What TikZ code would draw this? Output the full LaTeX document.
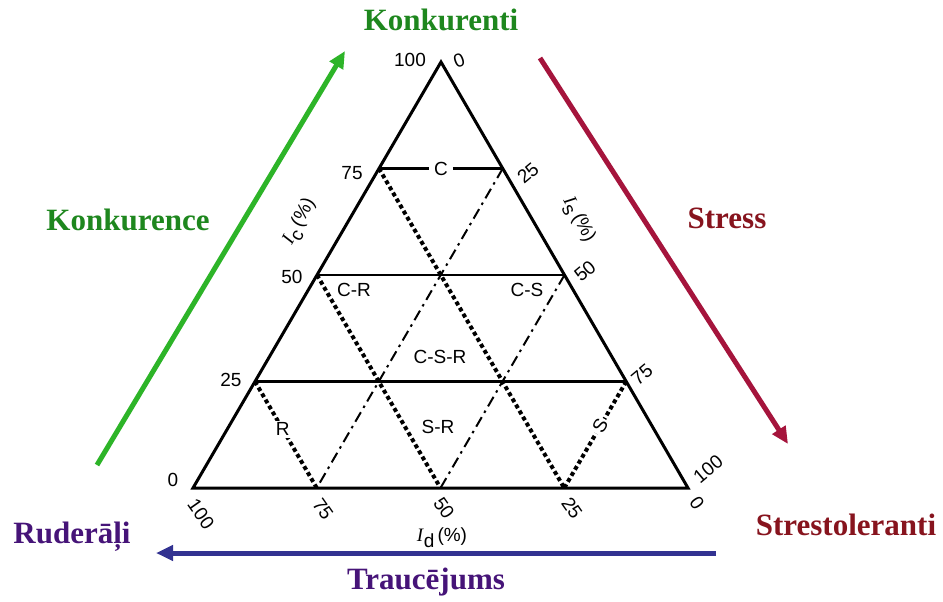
\documentclass[tikz,border=0pt]{standalone}
\usepackage{fontspec}
\setmainfont{Liberation Serif}
\setsansfont{Liberation Sans}
\usetikzlibrary{calc,arrows.meta}
\definecolor{kgreen}{RGB}{30,135,30}
\definecolor{agreen}{RGB}{45,180,40}
\definecolor{sred}{RGB}{135,20,30}
\definecolor{ared}{RGB}{165,20,60}
\definecolor{tpurple}{RGB}{70,20,120}
\definecolor{ablue}{RGB}{50,50,145}
\newcommand{\axlab}[1]{{\fontspec{Liberation Serif}\itshape I}\kern0.5pt\raisebox{-0.3em}{#1}\,(\%)}
\begin{document}
\begin{tikzpicture}[x=1pt,y=-1pt,
 title/.style={font=\fontsize{31}{31}\selectfont\bfseries, inner sep=0pt},
 tick/.style={font=\sffamily\fontsize{19}{19}\selectfont, inner sep=0pt},
 region/.style={font=\sffamily\fontsize{19}{19}\selectfont, inner sep=1pt},
 edgeline/.style={line width=3pt, line join=miter},
 levelline/.style={line width=2.8pt},
 dotline/.style={line width=4pt, dash pattern=on 4pt off 3pt},
 dashdotline/.style={line width=2pt, dash pattern=on 11pt off 5pt on 2.5pt off 5pt},
 bigarrow/.style={line width=5pt, -{Triangle[length=17pt,width=15pt]}},
]
\fill[white] (0,0) rectangle (943,602);
\useasboundingbox (0,0) rectangle (943,602);

% vertices
\coordinate (A) at (441,62);
\coordinate (L) at (193,488);
\coordinate (R) at (688,488);
\coordinate (l25) at ($(L)!0.25!(A)$);
\coordinate (l50) at ($(L)!0.50!(A)$);
\coordinate (l75) at ($(L)!0.75!(A)$);
\coordinate (r75) at ($(R)!0.25!(A)$);
\coordinate (r50) at ($(R)!0.50!(A)$);
\coordinate (r25) at ($(R)!0.75!(A)$);
\coordinate (b75) at ($(L)!0.25!(R)$);
\coordinate (b50) at ($(L)!0.50!(R)$);
\coordinate (b25) at ($(L)!0.75!(R)$);

% inner lines
\draw[dotline] (l75) -- (b25);
\draw[dotline] (l50) -- (b50);
\draw[dotline] (l25) -- (b75);
\draw[dotline] (r75) -- (b25);
\draw[dashdotline] (r25) -- (b75);
\draw[dashdotline] (r50) -- (b50);

\node[region, fill=white, inner sep=5pt] (lc) at ($(l75)!0.5!(r25)$) {C};
\draw[levelline] (l75) -- (lc);
\draw[levelline] (lc) -- (r25);
\draw[levelline] (l50) -- (r50);
\draw[levelline] (l25) -- (r75);

\draw[edgeline] (A) -- (L) -- (R) -- cycle;

% region labels
\node[region] (lcr) at (354,290) {C-R};
\node[region] (lcs) at (527,290) {C-S};
\node[region] (lcsr) at (440,357) {C-S-R};
\node[region] (lsr) at (438,427) {S-R};
\node[region, fill=white, inner sep=2pt] (lr) at ($(l25)!0.45!(b75)$) {R};
\node[region, fill=white, inner sep=2pt, rotate=60] (ls) at ($(r75)!0.42!(b25)$) {S};

% tick labels
\node[tick] (t1) at (410,60) {100};
\node[tick, rotate=20] (t2) at (459,61) {0};
\node[tick] (t3) at (352,173) {75};
\node[tick] (t4) at (292,277) {50};
\node[tick] (t5) at (231,380) {25};
\node[tick] (t6) at (173,480) {0};
\node[tick, rotate=-55] (t7) at (201,514) {100};
\node[tick, rotate=-55] (t8) at (323,509) {75};
\node[tick, rotate=-55] (t9) at (444,508) {50};
\node[tick, rotate=-55] (t10) at (572,508) {25};
\node[tick, rotate=-55] (t11) at (697,503) {0};
\node[tick, rotate=40] (t12) at (528,173) {25};
\node[tick, rotate=40] (t13) at (585,271) {50};
\node[tick, rotate=40] (t14) at (642,375) {75};
\node[tick, rotate=40] (t15) at (708,469) {100};

% axis labels
\node[tick, rotate=62] (ic) at (300,222) {\axlab{c}};
\node[tick, rotate=-62] (is) at (578,220) {\axlab{s}};
\node[tick] (id) at (442,538) {\axlab{d}};

% titles
\node[title, text=kgreen] (konk) at (441,20) {Konkurenti};
\node[title, text=kgreen] (konce) at (128,220) {Konkurence};
\node[title, text=sred] (stress) at (727,218) {Stress};
\node[title, text=sred] (strest) at (846,525) {Strestoleranti};
\node[title, text=tpurple] (rud) at (72,537) {Ruderāļi};
\node[title, text=tpurple] (trau) at (426,582) {Traucējums};

% arrows
\coordinate (g1) at (97,465);
\coordinate (g2) at (345,51);
\coordinate (rd1) at (540,58);
\coordinate (rd2) at (788,444);
\coordinate (bl1) at (716,553);
\coordinate (bl2) at (156,553);
\draw[bigarrow, agreen] (g1) -- (g2);
\draw[bigarrow, ared] (rd1) -- (rd2);
\draw[bigarrow, ablue] (bl1) -- (bl2);
\end{tikzpicture}
\end{document}
